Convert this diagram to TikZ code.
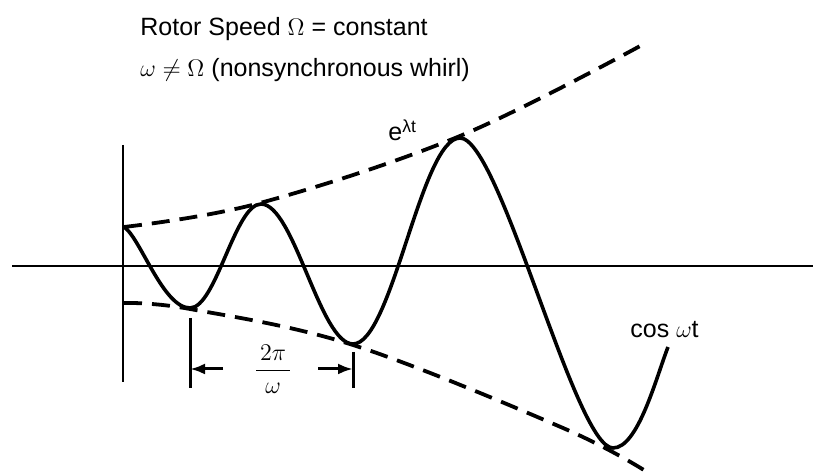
\documentclass[tikz,border=0pt]{standalone}
\usepackage{amsmath}
\usepackage{fontspec}
\setmainfont{Liberation Sans}
\usetikzlibrary{arrows.meta}

\begin{document}
\begin{tikzpicture}[
x=0.5pt, y=-0.5pt,
axis/.style={line width=1.4pt},
wave/.style={line width=1.8pt},
envelope/.style={line width=1.9pt, dash pattern=on 9pt off 5pt},
dim/.style={line width=1.5pt},
arrow/.style={-{Latex[length=7.5pt,width=5.5pt]}, line width=1.5pt},
txt/.style={font=\fontsize{12.5}{15}\selectfont, inner sep=0pt}
]
\useasboundingbox (0,0) rectangle (825,474);
% headings
\node[txt, anchor=base west] (speed) at (140,36) {Rotor Speed $\Omega$ = constant};
\node[txt, anchor=base west] (whirl) at (140,77) {$\omega \neq \Omega$ (nonsynchronous whirl)};
% axes
\coordinate (xl) at (12,266);
\coordinate (xr) at (813,266);
\coordinate (yt) at (123,145);
\coordinate (yb) at (123,382);
\draw[axis] (xl) -- (xr);
\draw[axis] (yt) -- (yb);
% envelopes
\draw[envelope] plot[smooth, tension=0.6] coordinates {(124,227) (260,203) (460,136) (642,45)};
\draw[envelope] plot[smooth, tension=0.6] coordinates {(124,303) (190,309) (353,345) (563,428) (647,472)};
\node[txt, anchor=base west] (growth) at (388,141) {e\textsuperscript{λt}};
% oscillation
\draw[wave] (124,227) .. controls (140,237) and (163,308) .. (190,308)
  .. controls (216,308) and (235,204) .. (261,204)
  .. controls (294,204) and (320,344) .. (353,344)
  .. controls (392,344) and (421,138) .. (460,138)
  .. controls (500,138) and (575,448) .. (613,448)
  .. controls (638,448) and (656,378) .. (668,347);
\node[txt, anchor=base west] (cosine) at (630,338) {cos $\omega$t};
% period
\coordinate (tickL) at (190,318);
\coordinate (tickLb) at (190,388);
\coordinate (tickR) at (353,352);
\coordinate (tickRb) at (353,388);
\draw[dim] (tickL) -- (tickLb);
\draw[dim] (tickR) -- (tickRb);
\node[font=\fontsize{12.5}{15}\selectfont, inner sep=0pt] (period) at (273,369) {$\dfrac{\,2\pi\,}{\omega}$};
\coordinate (arrL) at (223,369);
\coordinate (arrR) at (318,369);
\draw[arrow] (arrL) -- (tickL |- arrL);
\draw[arrow] (arrR) -- (tickR |- arrR);
\end{tikzpicture}
\end{document}
